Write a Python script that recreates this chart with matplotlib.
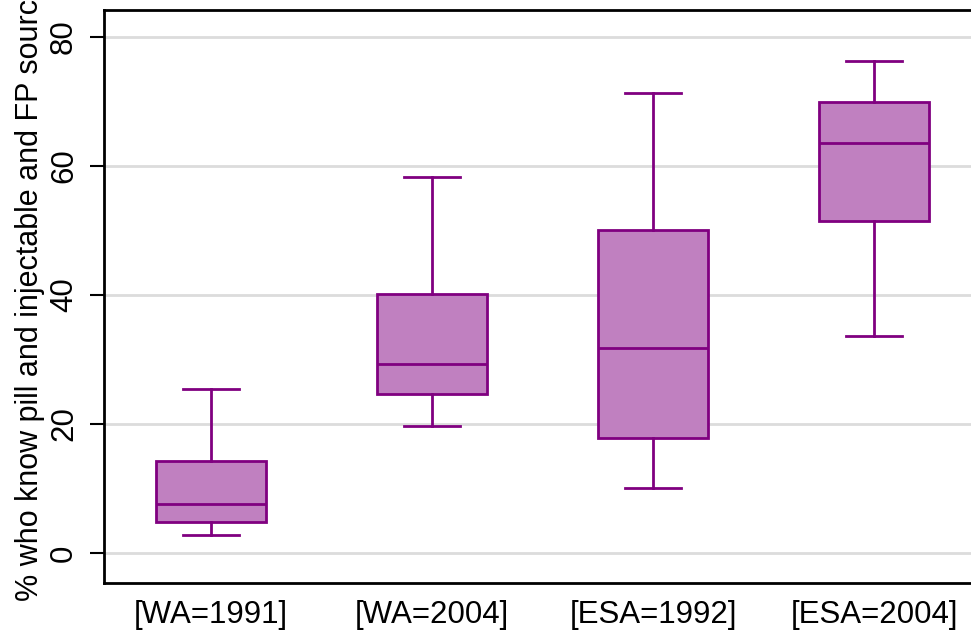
import numpy as np
import matplotlib.pyplot as plt

plt.rcParams['font.family'] = ['Liberation Sans', 'DejaVu Sans']

groups = ['[WA=1991]', '[WA=2004]', '[ESA=1992]', '[ESA=2004]']
whis_lo = [2.8, 19.6, 10.0, 33.7]
q1 = [4.8, 24.6, 17.8, 51.5]
med = [7.6, 29.3, 31.7, 63.5]
q3 = [14.3, 40.2, 50.1, 70.0]
whis_hi = [25.4, 58.3, 71.4, 76.3]
yticks = [0, 20, 40, 60, 80]

stats = []
for i in range(len(groups)):
    stats.append(dict(label=groups[i], whislo=whis_lo[i], q1=q1[i], med=med[i],
                      q3=q3[i], whishi=whis_hi[i], fliers=[]))

fig = plt.figure(figsize=(9.71, 6.31), dpi=100)
ax = fig.add_axes([104 / 971, 1 - 583 / 631, 877 / 971, 573 / 631])

purple = '#800080'
lw = 2.0
ax.bxp(stats, positions=np.arange(1, 5), widths=0.5, patch_artist=True,
       showfliers=False,
       boxprops=dict(facecolor='#c080c0', edgecolor=purple, linewidth=lw),
       medianprops=dict(color=purple, linewidth=lw),
       whiskerprops=dict(color=purple, linewidth=lw),
       capprops=dict(color=purple, linewidth=lw),
       capwidths=0.25)

ax.set_xlim(0.516, 4.484)
ax.set_ylim(-4.68, 84.2)
ax.set_yticks(yticks)
ax.set_yticklabels([str(t) for t in yticks], rotation=90, va='center')
ax.yaxis.grid(True, color='#dcdcdc', linewidth=2.0)
ax.set_axisbelow(True)
ax.tick_params(axis='y', length=10, width=1.5, pad=8, labelsize=22.5)
ax.tick_params(axis='x', length=0, pad=12, labelsize=22.5)
for s in ax.spines.values():
    s.set_linewidth(2.0)

# y title is cut off at the top edge in the reference too
fig.text(30 / 971, 1 - 601 / 631, '% who know pill and injectable and FP source',
         rotation=90, ha='center', va='bottom', fontsize=22)

fig.savefig('out.png', dpi=100)
